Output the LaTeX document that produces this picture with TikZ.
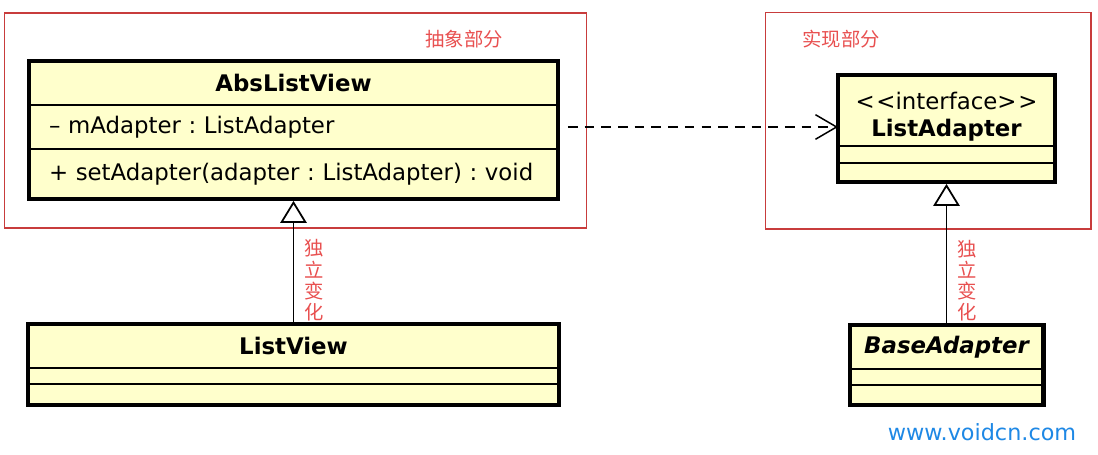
\documentclass[tikz,border=0pt]{standalone}
\usepackage{fontspec}
\setmainfont{DejaVu Sans}
\newfontfamily\cjk{Noto Sans CJK SC}
\usetikzlibrary{arrows.meta,positioning}
\definecolor{umlfill}{RGB}{255,255,204}
\definecolor{pkgred}{RGB}{200,60,60}
\definecolor{notered}{RGB}{232,80,80}
\definecolor{linkblue}{RGB}{30,136,229}
\frenchspacing

\begin{document}
\begin{tikzpicture}[x=0.02cm, y=-0.02cm, font=\fontsize{13}{15.5}\selectfont]

	\tikzstyle{pkg}=[draw=pkgred, line width=0.6pt, inner sep=0pt]
	\tikzstyle{pkglabel}=[text=notered, font=\cjk\fontsize{11}{12}\selectfont, inner sep=0pt]
	\tikzstyle{ctitle}=[draw, line width=0.9pt, fill=umlfill, inner sep=0pt, outer sep=0pt,
	align=center, font=\bfseries\fontsize{13}{15.5}\selectfont]
	\tikzstyle{cpart}=[draw, line width=0.9pt, fill=umlfill, inner ysep=0pt, inner xsep=0.4cm,
	outer sep=0pt, align=left]
	\tikzstyle{cframe}=[draw, line width=2.3pt]
	\tikzstyle{realize}=[dash pattern=on 5.5pt off 4pt, line width=0.85pt,
	-{Straight Barb[length=12pt, width=14pt]}]
	\tikzstyle{inherit}=[line width=1pt, -{Triangle[open, length=12.5pt, width=15pt, fill=white]}]
	\tikzstyle{vlabel}=[text=notered, font=\cjk\fontsize{11}{12}\selectfont, align=center, inner sep=0pt]

	\useasboundingbox (0,0) rectangle (1098,454);

	% Package frames
	\node[pkg, minimum width=11.66cm, minimum height=4.3cm] (absPkg) at (295.5,120.5) {};
	\node[pkg, minimum width=6.52cm, minimum height=4.34cm] (implPkg) at (928,120.5) {};
	\node[pkglabel] (absLbl) at (464,39) {抽象部分};
	\node[pkglabel] (implLbl) at (841,39) {实现部分};

	% AbsListView
	\node[ctitle, minimum width=10.58cm, minimum height=0.88cm] (absT) at (293.5,83) {AbsListView};
	\node[cpart, text width=9.78cm, minimum height=0.88cm, below=0pt of absT] (absA)
	{\mbox{– mAdapter : ListAdapter}};
	\node[cpart, text width=9.78cm, minimum height=1.0cm, below=0pt of absA] (absM)
	{\mbox{+ setAdapter(adapter : ListAdapter) : void}};
	\draw[cframe] (absT.north west) rectangle (absM.south east);

	% ListAdapter
	\node[ctitle, minimum width=4.34cm, minimum height=1.42cm] (ladT) at (946.5,110.5)
	{\rule{0pt}{17pt}{\mdseries <\kern1pt<interface>\kern1pt>}\\ListAdapter};
	\node[cpart, minimum width=4.34cm, minimum height=0.34cm, below=0pt of ladT] (ladA) {};
	\node[cpart, minimum width=4.34cm, minimum height=0.38cm, below=0pt of ladA] (ladM) {};
	\draw[cframe] (ladT.north west) rectangle (ladM.south east);

	% ListView
	\node[ctitle, minimum width=10.62cm, minimum height=0.88cm] (lvT) at (293.5,346) {ListView};
	\node[cpart, minimum width=10.62cm, minimum height=0.32cm, below=0pt of lvT] (lvA) {};
	\node[cpart, minimum width=10.62cm, minimum height=0.42cm, below=0pt of lvA] (lvM) {};
	\draw[cframe] (lvT.north west) rectangle (lvM.south east);

	% BaseAdapter
	\node[ctitle, minimum width=3.88cm, minimum height=0.88cm] (baT) at (946.5,347) {\itshape BaseAdapter};
	\node[cpart, minimum width=3.88cm, minimum height=0.32cm, below=0pt of baT] (baA) {};
	\node[cpart, minimum width=3.88cm, minimum height=0.40cm, below=0pt of baA] (baM) {};
	\draw[cframe] (baT.north west) rectangle (baM.south east);

	% Dependency
	\draw[realize, shorten <=5.7pt] (absA.east) -- (absA.east -| ladT.west);

	% Generalizations
	\draw[inherit, shorten >=1.1pt] (lvT.north) -- node[vlabel, pos=0.35, right=6pt] {独\\立\\变\\化} (absM.south);
	\draw[inherit, shorten >=1.1pt] (baT.north) -- node[vlabel, pos=0.31, right=6pt] {独\\立\\变\\化} (ladM.south);

	% Watermark
	\node[text=linkblue, font=\fontsize{12.7}{14}\selectfont] (site) at (982,432) {www.voidcn.com};

\end{tikzpicture}
\end{document}
